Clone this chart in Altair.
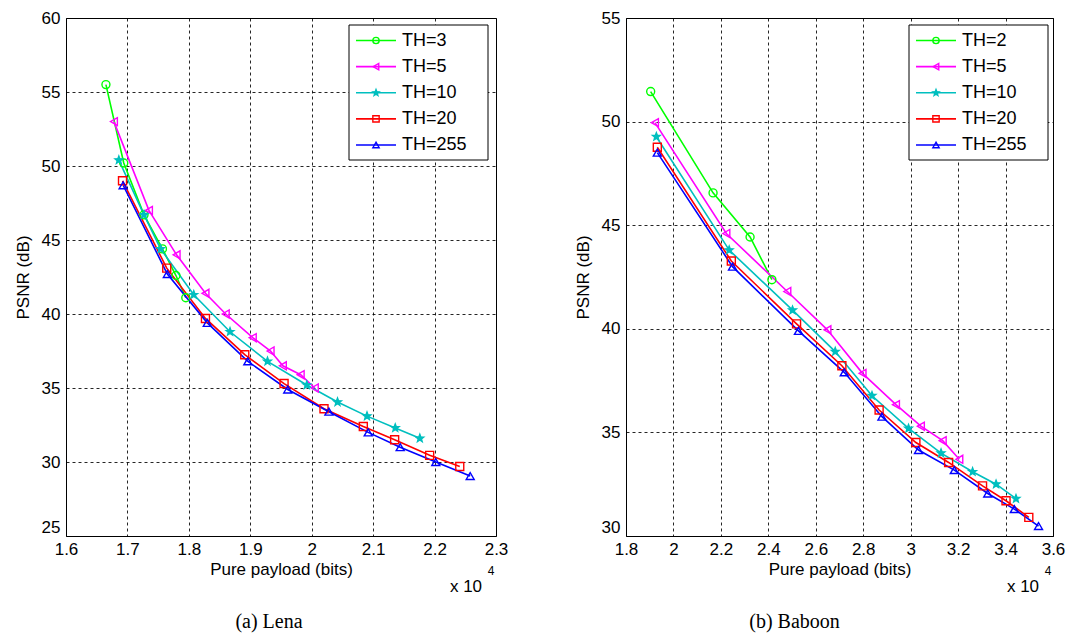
import math
import altair as alt
import pandas as pd

# ---------------- data (payload in units of 10^4 bits, PSNR in dB) ----------------
lena_labels = ["TH=3", "TH=5", "TH=10", "TH=20", "TH=255"]
lena_th3_x = [1.665, 1.694, 1.727, 1.757, 1.779, 1.795]
lena_th3_y = [55.5, 50.2, 46.7, 44.4, 42.6, 41.1]
lena_th5_x = [1.678, 1.735, 1.780, 1.827, 1.860, 1.904, 1.933, 1.953, 1.982, 2.005]
lena_th5_y = [53.0, 47.0, 44.0, 41.4, 40.0, 38.4, 37.5, 36.5, 35.9, 35.0]
lena_th10_x = [1.686, 1.727, 1.754, 1.808, 1.867, 1.928, 1.992, 2.042, 2.090, 2.136, 2.176]
lena_th10_y = [50.4, 46.7, 44.4, 41.3, 38.8, 36.8, 35.2, 34.05, 33.1, 32.3, 31.6]
lena_th20_x = [1.692, 1.764, 1.827, 1.891, 1.955, 2.020, 2.084, 2.135, 2.192, 2.241]
lena_th20_y = [49.0, 43.1, 39.7, 37.25, 35.3, 33.6, 32.4, 31.5, 30.45, 29.7]
lena_th255_x = [1.693, 1.765, 1.830, 1.896, 1.961, 2.028, 2.092, 2.144, 2.202, 2.258]
lena_th255_y = [48.7, 42.7, 39.4, 36.8, 34.9, 33.4, 32.0, 31.0, 30.0, 29.05]

baboon_labels = ["TH=2", "TH=5", "TH=10", "TH=20", "TH=255"]
baboon_th2_x = [1.904, 2.167, 2.323, 2.415]
baboon_th2_y = [51.45, 46.56, 44.43, 42.37]
baboon_th5_x = [1.922, 2.223, 2.480, 2.649, 2.797, 2.938, 3.043, 3.135, 3.205]
baboon_th5_y = [49.95, 44.6, 41.8, 39.95, 37.85, 36.34, 35.3, 34.6, 33.7]
baboon_th10_x = [1.928, 2.235, 2.502, 2.682, 2.837, 2.991, 3.128, 3.261, 3.360, 3.444]
baboon_th10_y = [49.27, 43.8, 40.9, 38.9, 36.77, 35.19, 34.0, 33.1, 32.5, 31.8]
baboon_th20_x = [1.932, 2.244, 2.519, 2.710, 2.867, 3.022, 3.160, 3.303, 3.402, 3.498]
baboon_th20_y = [48.76, 43.27, 40.24, 38.22, 36.08, 34.51, 33.55, 32.42, 31.7, 30.9]
baboon_th255_x = [1.932, 2.249, 2.527, 2.720, 2.879, 3.033, 3.184, 3.325, 3.437, 3.539]
baboon_th255_y = [48.5, 43.0, 39.9, 37.9, 35.76, 34.15, 33.18, 32.05, 31.3, 30.48]

lena_xticks = [1.6, 1.7, 1.8, 1.9, 2.0, 2.1, 2.2, 2.3]
lena_yticks = [25, 30, 35, 40, 45, 50, 55, 60]
baboon_xticks = [1.8, 2.0, 2.2, 2.4, 2.6, 2.8, 3.0, 3.2, 3.4, 3.6]
baboon_yticks = [30, 35, 40, 45, 50, 55]

COLORS = ["#00ff00", "#ff00ff", "#00bfbf", "#ff0000", "#0000ff"]


def star_path():
    pts = []
    for k in range(10):
        r = 1.0 if k % 2 == 0 else 0.42
        a = -math.pi / 2 + k * math.pi / 5
        pts.append((r * math.cos(a), r * math.sin(a)))
    return "M" + "L".join(f"{x:.3f},{y:.3f}" for x, y in pts) + "Z"


SHAPES = ["circle", "triangle-left", star_path(), "square", "triangle-up"]


def make_df(labels, xs, ys):
    rows = []
    for lab, xl, yl in zip(labels, xs, ys):
        for i, (a, b) in enumerate(zip(xl, yl)):
            rows.append({"TH": lab, "x": a, "y": b, "i": i})
    return pd.DataFrame(rows)


def panel(df, labels, xdom, xticks, ydom, yticks, w, h, caption, cap_dx):
    color = alt.Color("TH:N", scale=alt.Scale(domain=labels, range=COLORS), legend=None)
    shape = alt.Shape("TH:N", scale=alt.Scale(domain=labels, range=SHAPES), legend=None)
    xenc = alt.X("x:Q", scale=alt.Scale(domain=xdom, nice=False, zero=False),
                 axis=alt.Axis(values=xticks, title="Pure payload (bits)",
                               labelExpr="toString(round(datum.value*10)/10)"))
    ysc = alt.Scale(domain=ydom, nice=False, zero=False)
    low = ydom[0]
    yenc = alt.Y("y:Q", scale=ysc, axis=alt.Axis(
        values=yticks, title="PSNR (dB)",
        labelBaseline={"condition": {"test": f"datum.value <= {low}", "value": "bottom"},
                       "value": "middle"}))
    yenc2 = alt.Y("y:Q", scale=ysc, axis=None)

    base = alt.Chart(df)
    lines = base.mark_line(strokeWidth=1.6).encode(x=xenc, y=yenc, color=color, order="i:Q")
    pts = base.mark_point(filled=False, size=64, strokeWidth=1.4, opacity=1).encode(
        x="x:Q", y=yenc2, color=color, shape=shape)
    stars = base.transform_filter(alt.datum.TH == labels[2]).mark_point(
        filled=True, size=75, opacity=1).encode(x="x:Q", y=yenc2, color=color, shape=shape)

    legdf = pd.DataFrame({"TH": labels, "idx": list(range(len(labels)))})
    legy = alt.Y("idx:Q", scale=alt.Scale(domain=[0, 4], range=[22.5, 127]), axis=None)
    one = pd.DataFrame({"a": [0]})
    box = alt.Chart(one).mark_rect(fill="white", stroke="black", strokeWidth=1).encode(
        x=alt.value(283), x2=alt.value(422), y=alt.value(7), y2=alt.value(142))
    lrule = alt.Chart(legdf).mark_rule(strokeWidth=1.6).encode(
        x=alt.value(290), x2=alt.value(330), y=legy, color=color)
    lpt = alt.Chart(legdf).mark_point(filled=False, size=40, strokeWidth=1.4, opacity=1).encode(
        x=alt.value(310), y=legy, color=color, shape=shape)
    lstar = alt.Chart(legdf).transform_filter(alt.datum.TH == labels[2]).mark_point(
        filled=True, size=50, opacity=1).encode(x=alt.value(310), y=legy, color=color, shape=shape)
    ltxt = alt.Chart(legdf).mark_text(align="left", baseline="middle", fontSize=18,
                                      font="Liberation Sans", color="black").encode(
        x=alt.value(336), y=legy, text="TH:N")
    x10 = alt.Chart(one).mark_text(align="center", baseline="middle", fontSize=17,
                                   font="Liberation Sans", color="black").encode(
        x=alt.value(w - 30), y=alt.value(h + 51), text=alt.value("x 10"))
    sup = alt.Chart(one).mark_text(align="center", baseline="middle", fontSize=12,
                                   font="Liberation Sans", color="black").encode(
        x=alt.value(w - 5), y=alt.value(h + 35), text=alt.value("4"))

    return alt.layer(lines, pts, stars, box, lrule, lpt, lstar, ltxt, x10, sup).resolve_scale(
        y="independent").properties(
        width=w, height=h,
        title=alt.TitleParams(caption, orient="bottom", font="Liberation Serif", fontSize=20,
                              fontWeight="normal", color="black", dx=cap_dx, offset=17))


lena_df = make_df(lena_labels,
                  [lena_th3_x, lena_th5_x, lena_th10_x, lena_th20_x, lena_th255_x],
                  [lena_th3_y, lena_th5_y, lena_th10_y, lena_th20_y, lena_th255_y])
baboon_df = make_df(baboon_labels,
                    [baboon_th2_x, baboon_th5_x, baboon_th10_x, baboon_th20_x, baboon_th255_x],
                    [baboon_th2_y, baboon_th5_y, baboon_th10_y, baboon_th20_y, baboon_th255_y])

left = panel(lena_df, lena_labels, [1.6, 2.3], lena_xticks, [25, 60], lena_yticks,
             430, 518, "(a) Lena", -12)
right = panel(baboon_df, baboon_labels, [1.8, 3.6], baboon_xticks, [30, 55], baboon_yticks,
              427, 518, "(b) Baboon", -45)

chart = alt.hconcat(left, right, spacing=64).resolve_scale(
    color="independent", shape="independent").properties(
    padding={"left": 5, "top": 0, "right": 0, "bottom": 0}).configure_view(
    stroke="black", strokeWidth=1).configure_axis(
    domain=False, ticks=False, grid=True, gridColor="black", gridDash=[3, 3], gridOpacity=0.85,
    gridWidth=1, labelFont="Liberation Sans", labelFontSize=17, labelColor="black",
    titleFont="Liberation Sans", titleFontSize=17, titleFontWeight="normal", titleColor="black",
    labelFlush=False, labelOverlap=False).configure_axisX(
    labelPadding=5, titlePadding=4).configure_axisY(labelPadding=6, titlePadding=9)

chart.save("out.html", embed_options={"renderer": "svg", "actions": False})
